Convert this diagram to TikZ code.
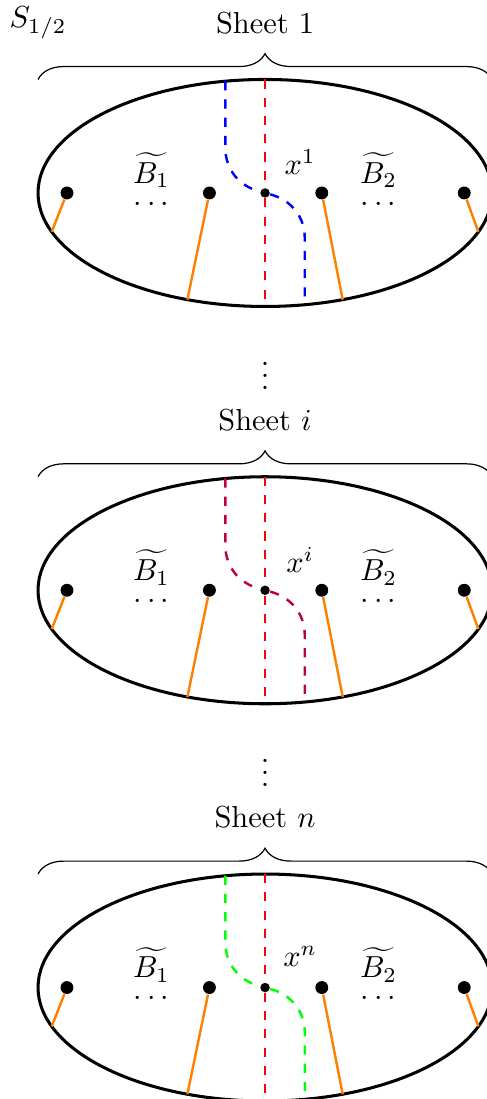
\documentclass[tikz,border=0pt]{standalone}
\usetikzlibrary{decorations.pathreplacing}

\begin{document}
\begin{tikzpicture}[x=1.312cm, y=1.312cm,
  rim/.style={draw, line width=1pt},
  pt/.style={circle, fill, inner sep=1.5pt},
  ctr/.style={circle, fill, inner sep=1.1pt},
  cut/.style={orange, thick},
  seam/.style={red, dashed, thick},
  flow/.style={dashed, thick},
  brc/.style={decorate, decoration={brace, amplitude=8.5pt}}]
\useasboundingbox (-2.335,-7.982) rectangle (1.947,1.700);
\node (half) at (-2,1.5) {$S_{1/2}$};
\foreach \k/\s/\c in {0/1/blue, 1/i/purple, 2/n/green} {
  \begin{scope}[shift={(0,-3.5*\k)}]
    % sheet and its brace
    \draw[rim] (0,0) ellipse [x radius=2, y radius=1];
    \draw[brc] (-2,1.0) -- (2,1.0);
    \node (title\k) at (0,1.5) {Sheet $\s$};
    \ifnum\k>0 \node (gap\k) at (0,1.97) {$\vdots$}; \fi
    % branch points
    \node[pt] (p1\k) at (-1.745,0) {};
    \node[pt] (p2\k) at (-0.49,0) {};
    \node[ctr] (x\k) at (0,0) {};
    \node[pt] (p3\k) at (0.5,0) {};
    \node[pt] (p4\k) at (1.755,0) {};
    \coordinate (e1\k) at (200:2 and 1);
    \coordinate (e2\k) at (250:2 and 1);
    \coordinate (e3\k) at (290:2 and 1);
    \coordinate (e4\k) at (340:2 and 1);
    \foreach \j in {1,...,4} \draw[cut] (p\j\k) -- (e\j\k);
    % cuts through the sheet
    \coordinate (top\k) at (0,1);
    \coordinate (bot\k) at (0,-1);
    \coordinate (fa\k) at (-0.35,0.985);
    \coordinate (fb\k) at (-0.35,0.4);
    \coordinate (fc\k) at (0.35,-0.4);
    \coordinate (fd\k) at (0.35,-0.985);
    \draw[seam] (top\k) -- (x\k) -- (bot\k);
    \draw[flow, \c] (fa\k) -- (fb\k) to[out=-90, in=165] (x\k)
      to[out=-15, in=90] (fc\k) -- (fd\k);
    % labels
    \node (b1\k) at (-1,0.2) {$\widetilde{B_1}$};
    \node (d1\k) at (-1,-0.1) {$\cdots$};
    \node (lx\k) at (0.31,0.27) {$x^\s$};
    \node (b2\k) at (1,0.2) {$\widetilde{B_2}$};
    \node (d2\k) at (1,-0.1) {$\cdots$};
  \end{scope}
}
\end{tikzpicture}
\end{document}
